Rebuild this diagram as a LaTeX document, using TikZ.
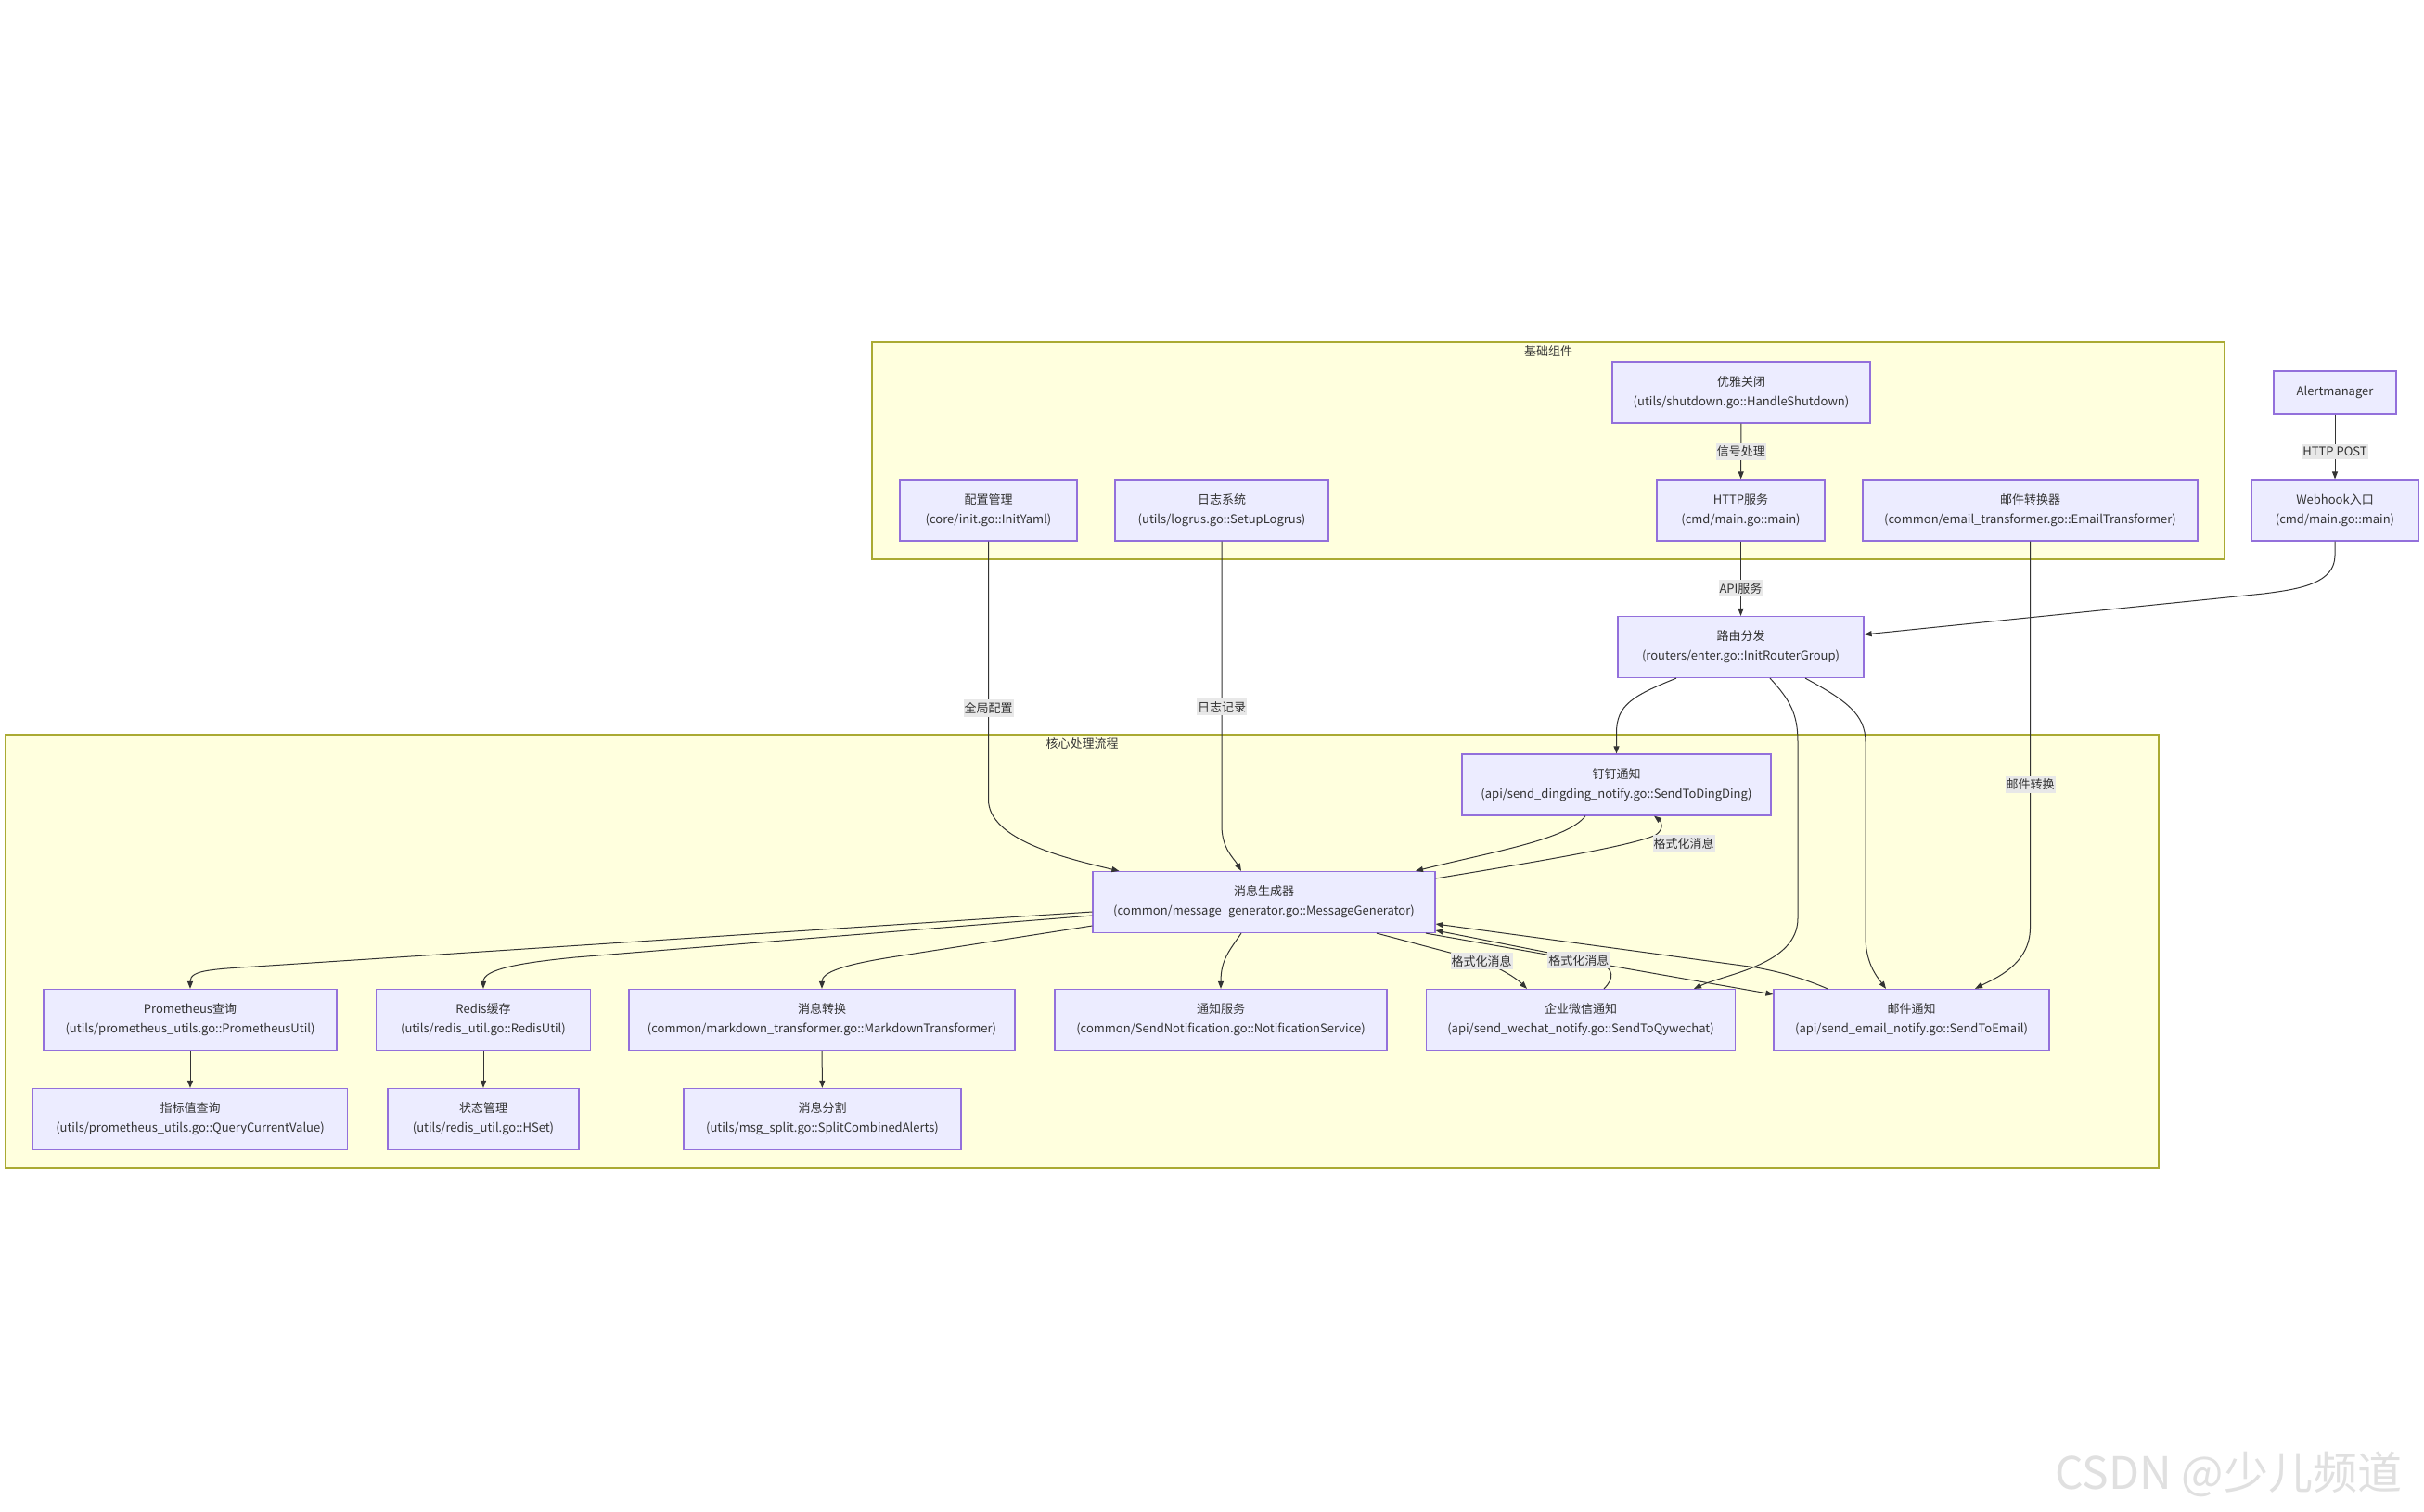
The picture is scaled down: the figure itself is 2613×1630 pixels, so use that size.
\documentclass[tikz,border=0pt]{standalone}
\usepackage{fontspec}
\setmainfont{Noto Sans CJK SC}
\usetikzlibrary{arrows.meta}
\definecolor{boxfill}{HTML}{ECECFF}
\definecolor{boxline}{HTML}{9370DB}
\definecolor{grpfill}{HTML}{FFFFDE}
\definecolor{grpline}{HTML}{AAAA33}
\definecolor{lblfill}{HTML}{E8E8E8}
\definecolor{ink}{HTML}{333333}
\tikzset{>={Triangle[length=8pt,width=6pt]},
  box/.style={draw=boxline, fill=boxfill, line width=1.2pt, minimum height=66pt, inner sep=0pt, align=center, text=ink, font=\fontsize{13}{21}\selectfont},
  group/.style={draw=grpline, fill=grpfill, line width=1.2pt},
  grplabel/.style={text=ink, inner sep=0pt, font=\fontsize{13}{16}\selectfont},
  lbl/.style={fill=lblfill, inner xsep=1pt, inner ysep=3pt, text=ink, font=\fontsize{13}{16}\selectfont},
  link/.style={->, draw=ink, line width=1pt}}

\begin{document}
\begin{tikzpicture}[x=1pt, y=-1pt]
\fill[white] (0,0) rectangle (2613,1630);
\useasboundingbox (0,0) rectangle (2613,1630);
\draw[group] (940,369) rectangle (2398,603);
\node[grplabel] (basetitle) at (1669,379) {基础组件};
\draw[group] (6,792) rectangle (2327,1259);
\node[grplabel] (coretitle) at (1166.5,802) {核心处理流程};

\node[box, minimum width=278pt] (shut) at (1877,423) {优雅关闭\\(utils/shutdown.go::HandleShutdown)};
\node[box, minimum width=181pt] (http) at (1876.5,550) {HTTP服务\\(cmd/main.go::main)};
\node[box, minimum width=361pt] (mailconv) at (2188.5,550) {邮件转换器\\(common/email\_transformer.go::EmailTransformer)};
\node[box, minimum width=191pt] (cfg) at (1065.5,550) {配置管理\\(core/init.go::InitYaml)};
\node[box, minimum width=230pt] (logsys) at (1317,550) {日志系统\\(utils/logrus.go::SetupLogrus)};
\node[box, minimum width=132pt, minimum height=46pt] (alert) at (2517,423) {Alertmanager};
\node[box, minimum width=180pt] (hook) at (2517,550) {Webhook入口\\(cmd/main.go::main)};
\node[box, minimum width=265pt] (router) at (1876.5,697.5) {路由分发\\(routers/enter.go::InitRouterGroup)};

\node[box, minimum width=333pt] (ding) at (1742.5,846) {钉钉通知\\(api/send\_dingding\_notify.go::SendToDingDing)};
\node[box, minimum width=369pt] (gen) at (1362.5,972.5) {消息生成器\\(common/message\_generator.go::MessageGenerator)};
\node[box, minimum width=358pt] (notify) at (1316,1099.5) {通知服务\\(common/SendNotification.go::NotificationService)};
\node[box, minimum width=333pt] (wechat) at (1704,1099.5) {企业微信通知\\(api/send\_wechat\_notify.go::SendToQywechat)};
\node[box, minimum width=297pt] (email) at (2060.5,1099.5) {邮件通知\\(api/send\_email\_notify.go::SendToEmail)};
\node[box, minimum width=316pt] (prom) at (205,1099.5) {Prometheus查询\\(utils/prometheus\_utils.go::PrometheusUtil)};
\node[box, minimum width=231pt] (redis) at (521,1099.5) {Redis缓存\\(utils/redis\_util.go::RedisUtil)};
\node[box, minimum width=416pt] (md) at (886,1099.5) {消息转换\\(common/markdown\_transformer.go::MarkdownTransformer)};
\node[box, minimum width=339pt] (metric) at (205,1206.5) {指标值查询\\(utils/prometheus\_utils.go::QueryCurrentValue)};
\node[box, minimum width=206pt] (state) at (521,1206.5) {状态管理\\(utils/redis\_util.go::HSet)};
\node[box, minimum width=299pt] (split) at (886.5,1206.5) {消息分割\\(utils/msg\_split.go::SplitCombinedAlerts)};

\draw[link] (shut) -- node[lbl] {信号处理} (http);
\draw[link] (http) -- node[lbl, pos=0.63] {API服务} (router);
\draw[link] (alert) -- node[lbl, pos=0.58] {HTTP POST} (hook);
\draw[link] (hook.south) -- ++(0,15) .. controls +(0,30) and (2480,635) .. (2440,640) -- ([yshift=13.5pt]router.east);

\draw[link] (cfg.south) -- node[lbl, pos=0.646] {全局配置} (1065.5,862) .. controls (1065.5,905) and (1147,925) .. ([xshift=29pt]gen.north west);
\draw[link] (logsys.south) -- node[lbl, pos=0.583] {日志记录} (1317,890) .. controls (1317,915) and (1330,925) .. ([xshift=-24.5pt]gen.north);
\draw[link] (mailconv.south) -- node[lbl, pos=0.63] {邮件转换} (2188.5,1000) .. controls (2188.5,1040) and (2150,1055) .. ([xshift=68.5pt]email.north);

\draw[link] ([xshift=-69.5pt]router.south) .. controls (1760,750) and (1742.5,760) .. (1742.5,790) -- (ding.north);
\draw[link] ([xshift=31.5pt]router.south) .. controls (1930,755) and (1938,770) .. (1938,800) -- (1938,990) .. controls (1938,1040) and (1860,1050) .. ([xshift=122pt]wechat.north);
\draw[link] ([xshift=69.5pt]router.south) .. controls (1990,755) and (2011,770) .. (2011,800) -- (2011,1010) .. controls (2011,1040) and (2025,1055) .. ([xshift=-27.5pt]email.north);

\draw[link] ([xshift=-33.5pt]ding.south) .. controls (1690,905) and (1610,918) .. ([xshift=163.5pt]gen.north);
\draw[link] ([yshift=25.5pt]gen.east) .. controls (1650,930) and (1760,912) .. (1785,900) .. controls (1795,893) and (1790,885) .. ([xshift=40.5pt]ding.south);
\node[lbl] (fmtding) at (1815,909) {格式化消息};

\draw[link] ([xshift=121.5pt]gen.south) -- (1597,1036) .. controls (1620,1045) and (1635,1055) .. ([xshift=-58pt]wechat.north);
\node[lbl] (fmtwechat) at (1597,1036) {格式化消息};
\draw[link] ([xshift=25pt]wechat.north) .. controls (1740,1055) and (1740,1045) .. (1725,1038) -- ([yshift=-30.5pt]gen.east);
\draw[link] ([xshift=174.5pt]gen.south) -- node[lbl, pos=0.44] (fmtemail) {格式化消息} ([yshift=27.5pt]email.west);
\draw[link] ([xshift=-90.5pt]email.north) .. controls (1945,1055) and (1920,1048) .. (1893,1043) -- ([yshift=-23.5pt]gen.east);

\draw[link] ([yshift=-10.5pt]gen.west) -- (290,1041) .. controls (230,1045) and (205,1045) .. (prom.north);
\draw[link] ([yshift=-14.5pt]gen.west) -- (620,1032) .. controls (560,1038) and (521,1045) .. (redis.north);
\draw[link] ([yshift=-25.5pt]gen.west) -- (960,1032) .. controls (910,1040) and (886,1048) .. (md.north);
\draw[link] ([xshift=-24.5pt]gen.south) .. controls (1325,1025) and (1316,1035) .. (notify.north);

\foreach \a/\b in {prom/metric, redis/state, md/split}
\draw[link] (\a) -- (\b);

\node[anchor=base west, inner sep=0pt, text=black!12, font=\fontsize{48}{48}\selectfont] (mark) at (2215,1605) {CSDN @少儿频道};
\end{tikzpicture}
\end{document}
